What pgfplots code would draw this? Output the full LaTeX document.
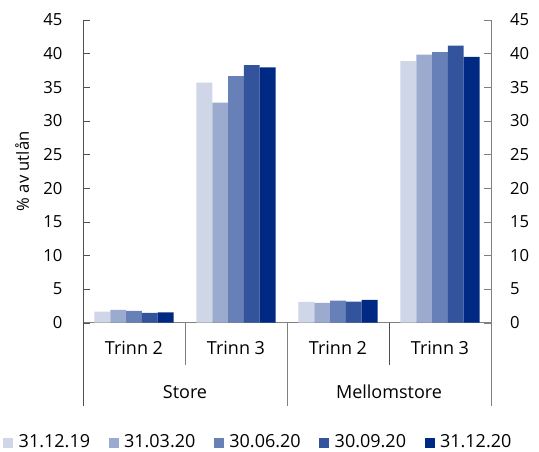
\documentclass[border=0pt]{standalone}
\usepackage{fontspec}
\setmainfont{Open Sans}
\usepackage{pgfplots}
\pgfplotsset{compat=1.18}
\definecolor{c1}{RGB}{207,214,232}
\definecolor{c2}{RGB}{155,171,207}
\definecolor{c3}{RGB}{103,128,183}
\definecolor{c4}{RGB}{51,84,157}
\definecolor{c5}{RGB}{0,41,132}
\definecolor{axgray}{RGB}{128,128,128}
\definecolor{axdark}{RGB}{80,80,80}
\begin{document}
\fontsize{12.5}{15}\selectfont
\begin{tikzpicture}
\useasboundingbox (-62.25pt,-97pt) rectangle (342pt,242pt);
\begin{axis}[
  at={(0,0)}, anchor=south west, scale only axis,
  width=306pt, height=227pt,
  xmin=-0.5, xmax=3.5, ymin=0, ymax=45,
  ybar=0pt, bar width=0.155,
  axis x line*=bottom, axis y line*=left,
  x axis line style={-, axgray},
  y axis line style={-, axdark},
  ytick={0,5,...,45},
  tick align=inside, major tick length=5pt,
  y tick style={axdark},
  xtick={0,1,2,3},
  xticklabels={Trinn 2,Trinn 3,Trinn 2,Trinn 3},
  x tick style={draw=none},
  xticklabel style={anchor=center, yshift=-19pt, font=\fontsize{13.5}{15}\selectfont},
  yticklabel style={xshift=-11pt},
  /pgf/number format/assume math mode=true,
  ylabel={\% av utlån},
  ylabel style={at={(axis description cs:-0.149,0.5)}, anchor=center},
  clip=false,
  legend columns=5,
  legend style={draw=none, fill=none, at={(axis description cs:0.434,-0.3965)}, anchor=center,
    /tikz/every even column/.append style={column sep=10pt},
    /tikz/every odd column/.append style={column sep=0pt},
    nodes={inner xsep=4pt},
    font=\fontsize{13.5}{15}\selectfont},
  legend image code/.code={\fill[#1] (0pt,-3.75pt) rectangle (7.5pt,3.75pt);},
  every axis plot/.append style={draw=none},
]
\addplot[fill=c1] coordinates {(0,1.64) (1,35.68) (2,3.08) (3,38.9)};
\addplot[fill=c2] coordinates {(0,1.89) (1,32.7) (2,2.93) (3,39.84)};
\addplot[fill=c3] coordinates {(0,1.74) (1,36.67) (2,3.27) (3,40.24)};
\addplot[fill=c4] coordinates {(0,1.44) (1,38.3) (2,3.12) (3,41.18)};
\addplot[fill=c5] coordinates {(0,1.54) (1,37.96) (2,3.37) (3,39.5)};
\legend{31.12.19,31.03.20,30.06.20,30.09.20,31.12.20}
\draw[axdark] (axis cs:-0.5,0) -- ++(0pt,-62.5pt);
\draw[axgray] (axis cs:1.5,0) -- ++(0pt,-62.5pt);
\draw[axgray] (axis cs:3.5,0) -- ++(0pt,-62.5pt);
\draw[axgray] (axis cs:0.5,0) -- ++(0pt,-31.5pt);
\draw[axdark] (axis cs:2.5,0) -- ++(0pt,-31.5pt);
\node[font=\fontsize{13.5}{15}\selectfont] at (axis cs:0.5,0) [yshift=-52pt] {Store};
\node[font=\fontsize{13.5}{15}\selectfont] at (axis cs:2.5,0) [yshift=-52pt] {Mellomstore};
\end{axis}
\begin{axis}[
  at={(0,0)}, anchor=south west, scale only axis,
  width=306pt, height=227pt,
  xmin=-0.5, xmax=3.5, ymin=0, ymax=45,
  axis x line=none, axis y line*=right,
  y axis line style={-, axgray},
  ytick={0,5,...,45},
  tick align=inside, major tick length=5pt,
  y tick style={axgray},
  yticklabel style={xshift=10pt},
  /pgf/number format/assume math mode=true,
]
\end{axis}
\end{tikzpicture}
\end{document}
